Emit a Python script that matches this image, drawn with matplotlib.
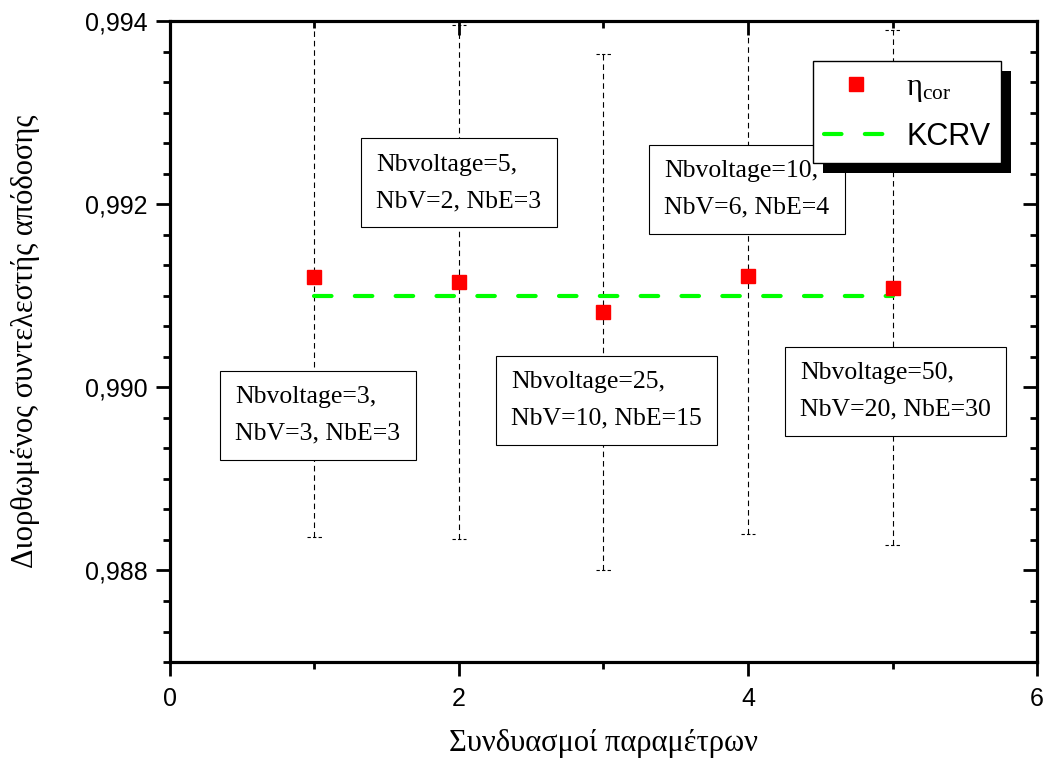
import matplotlib
matplotlib.use('Agg')
import matplotlib.pyplot as plt
from matplotlib.ticker import MultipleLocator
from matplotlib.patches import Rectangle
from matplotlib.transforms import IdentityTransform

# data
combos = [1, 2, 3, 4, 5]
eta_cor = [0.99120, 0.99115, 0.99082, 0.99122, 0.99109]
eta_err = [0.00284, 0.00281, 0.00282, 0.00282, 0.00281]
kcrv_x = [1, 5]
kcrv = [0.99100, 0.99100]

box_texts = ['Nbvoltage=3,\nNbV=3, NbE=3',
             'Nbvoltage=5,\nNbV=2, NbE=3',
             'Nbvoltage=25,\nNbV=10, NbE=15',
             'Nbvoltage=10,\nNbV=6, NbE=4',
             'Nbvoltage=50,\nNbV=20, NbE=30']
box_x = [0.45, 1.426, 2.36, 3.419, 4.36]
box_y = [0.989692, 0.992233, 0.989856, 0.992163, 0.989954]

xticks = [0, 2, 4, 6]
yticks = [0.988, 0.990, 0.992, 0.994]
ytick_labels = ['0,988', '0,990', '0,992', '0,994']
xlim = (0, 6)
ylim = (0.987, 0.994)

plt.rcParams['mathtext.fontset'] = 'custom'
plt.rcParams['mathtext.rm'] = 'Liberation Serif'
plt.rcParams['font.family'] = 'Liberation Sans'

fig = plt.figure(figsize=(10.49, 7.65), dpi=100)
ax = fig.add_axes([0.162, 0.1346, 0.8266, 0.8379])

# error bars: thin dashed lines with dashed caps
eb = ax.errorbar(combos, eta_cor, yerr=eta_err, fmt='none', ecolor='black',
                 elinewidth=0.8, capsize=0, zorder=2)
eb.lines[2][0].set_linestyle((0, (5, 3.5)))
lows = [v - e for v, e in zip(eta_cor, eta_err)]
highs = [v + e for v, e in zip(eta_cor, eta_err)]
ax.hlines(lows + highs, [c - 0.05 for c in combos] * 2, [c + 0.05 for c in combos] * 2,
          colors='black', linewidth=0.8, linestyles=(0, (3, 2)), zorder=2)

ax.plot(kcrv_x, kcrv, color='#00ff00', lw=3, ls=(0, (4.2, 5.6)),
        dash_capstyle='round', label='KCRV', zorder=2.5)
ax.plot(combos, eta_cor, 's', color='red', ms=10, label=r'$\mathrm{η_{cor}}$', zorder=3)

for s, x, y in zip(box_texts, box_x, box_y):
    ax.text(x, y, s, fontsize=18.5, family='Liberation Serif', ha='left', va='center',
            linespacing=1.85,
            bbox=dict(boxstyle='square,pad=0.6', fc='white', ec='black', lw=0.8),
            zorder=4)

ax.set_xlim(*xlim)
ax.set_ylim(*ylim)
ax.set_xticks(xticks)
ax.set_yticks(yticks)
ax.set_yticklabels(ytick_labels)
ax.xaxis.set_minor_locator(MultipleLocator(1))
ax.yaxis.set_minor_locator(MultipleLocator(0.002 / 6))
ax.xaxis.set_ticks_position('bottom')
ax.yaxis.set_ticks_position('left')
ax.tick_params(which='major', direction='out', length=10, width=2, labelsize=18)
ax.tick_params(axis='y', pad=6)
ax.tick_params(axis='x', pad=8)
ax.tick_params(which='minor', direction='out', length=5, width=2)
for sp in ax.spines.values():
    sp.set_linewidth(2.2)

# right and top axes with inward ticks
axr = ax.twinx()
axr.set_ylim(*ylim)
axr.set_yticks(yticks)
axr.yaxis.set_minor_locator(MultipleLocator(0.002 / 6))
axr.tick_params(which='major', direction='in', length=10, width=2, labelright=False)
axr.tick_params(which='minor', direction='in', length=5, width=2)
axt = ax.twiny()
axt.set_xlim(*xlim)
axt.set_xticks(xticks)
axt.xaxis.set_minor_locator(MultipleLocator(1))
axt.tick_params(which='major', direction='in', length=10, width=2, labeltop=False)
axt.tick_params(which='minor', direction='in', length=5, width=2)
for a in (axr, axt):
    for sp in a.spines.values():
        sp.set_linewidth(2.2)

ax.set_xlabel('Συνδυασμοί παραμέτρων', fontsize=22, family='Liberation Serif', va='top')
ax.xaxis.set_label_coords(0.5, -0.105)
ax.set_ylabel('Διορθωμένος συντελεστής απόδοσης', fontsize=22, family='Liberation Serif')
ax.yaxis.set_label_coords(-0.15, 0.5)

handles, labels = ax.get_legend_handles_labels()
leg = ax.legend(handles[::-1], labels[::-1], loc='upper left', bbox_to_anchor=(0.7416, 0.9376),
                borderaxespad=0, frameon=True, fancybox=False, framealpha=1,
                edgecolor='black', prop={'family': 'Liberation Sans', 'size': 22},
                handlelength=2.1, handletextpad=0.6, labelspacing=0.6,
                borderpad=0.35, numpoints=1)
leg.get_frame().set_linewidth(1.0)
leg.set_zorder(6)

fig.canvas.draw()
bb = leg.get_window_extent()
shadow = Rectangle((bb.x0 + 10, bb.y0 - 10), bb.width, bb.height, transform=IdentityTransform(),
                   fc='black', ec='none', zorder=5.9, clip_on=False)
ax.add_artist(shadow)

fig.savefig('out.png', dpi=100)
